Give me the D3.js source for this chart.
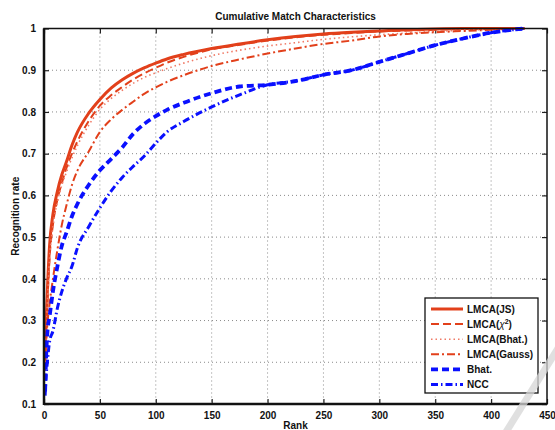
<!DOCTYPE html>
<html>
<head>
<meta charset="utf-8">
<script src="https://cdn.jsdelivr.net/npm/d3@7"></script>
<style>
  html, body { margin: 0; padding: 0; background: #fff; }
  svg { display: block; font-family: "Liberation Sans", Arial, Helvetica, sans-serif; }
</style>
</head>
<body>
<svg id="chart" width="555" height="430"></svg>
<script>
// ---- data ----
const ranks      = [1, 2, 3, 5, 8, 12, 16, 20, 25, 30, 40, 50, 60, 70, 80, 90, 100, 110, 125, 150, 175, 200, 225, 250, 275, 300, 325, 350, 375, 400, 430];
const lmcaJS     = [0.22, 0.30, 0.37, 0.48, 0.555, 0.61, 0.65, 0.68, 0.72, 0.752, 0.797, 0.83, 0.857, 0.877, 0.893, 0.906, 0.917, 0.927, 0.938, 0.952, 0.963, 0.973, 0.981, 0.987, 0.991, 0.994, 0.997, 0.999, 1, 1, 1];
const lmcaChi2   = [0.20, 0.27, 0.34, 0.45, 0.53, 0.59, 0.63, 0.665, 0.70, 0.73, 0.778, 0.815, 0.84, 0.86, 0.878, 0.893, 0.906, 0.918, 0.932, 0.95, 0.961, 0.971, 0.979, 0.985, 0.989, 0.993, 0.995, 0.997, 0.999, 1, 1];
const lmcaBhat   = [0.20, 0.27, 0.34, 0.45, 0.525, 0.585, 0.625, 0.655, 0.69, 0.72, 0.768, 0.806, 0.832, 0.852, 0.869, 0.883, 0.894, 0.904, 0.917, 0.935, 0.948, 0.958, 0.966, 0.974, 0.98, 0.985, 0.989, 0.993, 0.996, 0.998, 1];
const lmcaGauss  = [0.18, 0.25, 0.29, 0.34, 0.40, 0.47, 0.53, 0.575, 0.625, 0.66, 0.705, 0.752, 0.782, 0.805, 0.825, 0.844, 0.859, 0.872, 0.888, 0.91, 0.926, 0.94, 0.952, 0.963, 0.971, 0.981, 0.987, 0.991, 0.994, 0.997, 1];
const bhat       = [0.13, 0.22, 0.27, 0.31, 0.37, 0.43, 0.48, 0.51, 0.55, 0.58, 0.625, 0.66, 0.687, 0.715, 0.748, 0.772, 0.79, 0.805, 0.822, 0.845, 0.861, 0.865, 0.874, 0.889, 0.90, 0.92, 0.94, 0.96, 0.976, 0.99, 1];
const ncc        = [0.12, 0.17, 0.20, 0.25, 0.275, 0.33, 0.37, 0.40, 0.43, 0.475, 0.525, 0.57, 0.61, 0.643, 0.67, 0.695, 0.725, 0.752, 0.777, 0.812, 0.841, 0.865, 0.874, 0.889, 0.90, 0.92, 0.94, 0.96, 0.976, 0.99, 1];
const seriesNames = ["LMCA(JS)", "LMCA(\u03c7\u00b2)", "LMCA(Bhat.)", "LMCA(Gauss)", "Bhat.", "NCC"];
const xTicks = [0, 50, 100, 150, 200, 250, 300, 350, 400, 450];
const yTicks = [0.1, 0.2, 0.3, 0.4, 0.5, 0.6, 0.7, 0.8, 0.9, 1];
const titleText = "Cumulative Match Characteristics";
const xLabel = "Rank";
const yLabel = "Recognition rate";

// ---- styles ----
const RED = "#e2401b", SALMON = "#f07a66", BLUE = "#0a10ff";
const styles = [
  { color: RED,    width: 3,   dash: null },
  { color: RED,    width: 2,   dash: "8,4" },
  { color: SALMON, width: 1.6, dash: "1.5,3" },
  { color: RED,    width: 2,   dash: "8,3,2,3" },
  { color: BLUE,   width: 3.8, dash: "7,4" },
  { color: BLUE,   width: 3,   dash: "7,3,1.5,3" }
];
const allValues = [lmcaJS, lmcaChi2, lmcaBhat, lmcaGauss, bhat, ncc];

const svg = d3.select("#chart");
const m = { left: 44, right: 547, top: 28.5, bottom: 404 };
const x = d3.scaleLinear().domain([0, 450]).range([m.left, m.right]);
const y = d3.scaleLinear().domain([0.1, 1]).range([m.bottom, m.top]);

// grid
const grid = svg.append("g");
grid.selectAll("line.gx").data(xTicks.slice(1, -1)).join("line")
  .attr("x1", d => x(d)).attr("x2", d => x(d)).attr("y1", m.top).attr("y2", m.bottom)
  .attr("stroke", "#8a8a8a").attr("stroke-width", 1).attr("stroke-dasharray", "1,3");
grid.selectAll("line.gy").data(yTicks.slice(1, -1)).join("line")
  .attr("y1", d => y(d)).attr("y2", d => y(d)).attr("x1", m.left).attr("x2", m.right)
  .attr("stroke", "#8a8a8a").attr("stroke-width", 1).attr("stroke-dasharray", "1,3");

// axes
const fmtY = d => (d === 1 ? "1" : d3.format(".1f")(d));
const axB = svg.append("g").attr("transform", `translate(0,${m.bottom})`)
  .call(d3.axisBottom(x).tickValues(xTicks).tickSizeInner(-5).tickSizeOuter(0).tickPadding(8));
const axT = svg.append("g").attr("transform", `translate(0,${m.top})`)
  .call(d3.axisTop(x).tickValues(xTicks).tickSizeInner(-5).tickSizeOuter(0).tickFormat(""));
const axL = svg.append("g").attr("transform", `translate(${m.left},0)`)
  .call(d3.axisLeft(y).tickValues(yTicks).tickSizeInner(-5).tickSizeOuter(0).tickPadding(8).tickFormat(fmtY));
const axR = svg.append("g").attr("transform", `translate(${m.right},0)`)
  .call(d3.axisRight(y).tickValues(yTicks).tickSizeInner(-5).tickSizeOuter(0).tickFormat(""));
[axB, axT, axL, axR].forEach(a => {
  a.select(".domain").remove();
  a.selectAll(".tick line").attr("stroke", "#222").attr("stroke-width", 1.2);
  a.selectAll("text").attr("font-size", 10).attr("font-weight", "bold").attr("fill", "#111");
});

// clip + lines
svg.append("clipPath").attr("id", "clip").append("rect")
  .attr("x", m.left).attr("y", m.top - 3).attr("width", m.right - m.left).attr("height", m.bottom - m.top + 3);
const line = d3.line().x(d => x(d[0])).y(d => y(d[1])).curve(d3.curveMonotoneX);
const linesG = svg.append("g").attr("clip-path", "url(#clip)");
allValues.forEach((vals, i) => {
  const pts = ranks.map((r, j) => [r, vals[j]]);
  linesG.append("path").datum(pts).attr("d", line)
    .attr("fill", "none").attr("stroke", styles[i].color).attr("stroke-width", styles[i].width)
    .attr("stroke-dasharray", styles[i].dash).attr("stroke-linejoin", "round");
});

// frame
svg.append("rect").attr("x", m.left).attr("y", m.top).attr("width", m.right - m.left).attr("height", m.bottom - m.top)
  .attr("fill", "none").attr("stroke", "#111").attr("stroke-width", 1.5);
svg.append("line").attr("x1", m.left).attr("x2", m.left).attr("y1", m.top).attr("y2", m.bottom + 1)
  .attr("stroke", "#111").attr("stroke-width", 2.5);
svg.append("line").attr("x1", m.left).attr("x2", m.right).attr("y1", m.bottom).attr("y2", m.bottom)
  .attr("stroke", "#111").attr("stroke-width", 2.5);

// legend
const lg = svg.append("g");
lg.append("rect").attr("x", 425).attr("y", 298).attr("width", 113).attr("height", 95)
  .attr("fill", "#fff").attr("stroke", "#111").attr("stroke-width", 1.3);
seriesNames.forEach((name, i) => {
  const yy = 309 + i * 15.1;
  lg.append("line").attr("x1", 431).attr("x2", 463).attr("y1", yy).attr("y2", yy)
    .attr("stroke", styles[i].color).attr("stroke-width", styles[i].width).attr("stroke-dasharray", styles[i].dash);
  const t = lg.append("text").attr("x", 467).attr("y", yy + 3.5).attr("font-size", 10).attr("font-weight", "bold").attr("fill", "#111");
  if (i === 1) {
    t.append("tspan").text("LMCA(");
    t.append("tspan").text("\u03c7").attr("font-weight", "normal").attr("font-style", "italic");
    t.append("tspan").text("2").attr("font-size", 7).attr("dy", -4);
    t.append("tspan").text(")").attr("dy", 4);
  } else {
    t.text(name);
  }
});

// titles
svg.append("text").attr("x", (m.left + m.right) / 2).attr("y", 19.5).attr("text-anchor", "middle")
  .attr("font-size", 10).attr("font-weight", "bold").attr("fill", "#111").text(titleText);
svg.append("text").attr("x", (m.left + m.right) / 2).attr("y", 429).attr("text-anchor", "middle")
  .attr("font-size", 10).attr("font-weight", "bold").attr("fill", "#111").text(xLabel);
svg.append("text").attr("transform", `translate(19,${(m.top + m.bottom) / 2}) rotate(-90)`).attr("text-anchor", "middle")
  .attr("font-size", 10).attr("font-weight", "bold").attr("fill", "#111").text(yLabel);

// faint diagonal stroke seen in the scan
svg.append("line").attr("x1", 560).attr("y1", 345).attr("x2", 506).attr("y2", 432)
  .attr("stroke", "#d6d6d6").attr("stroke-width", 7).attr("opacity", 0.75);
</script>
</body>
</html>
